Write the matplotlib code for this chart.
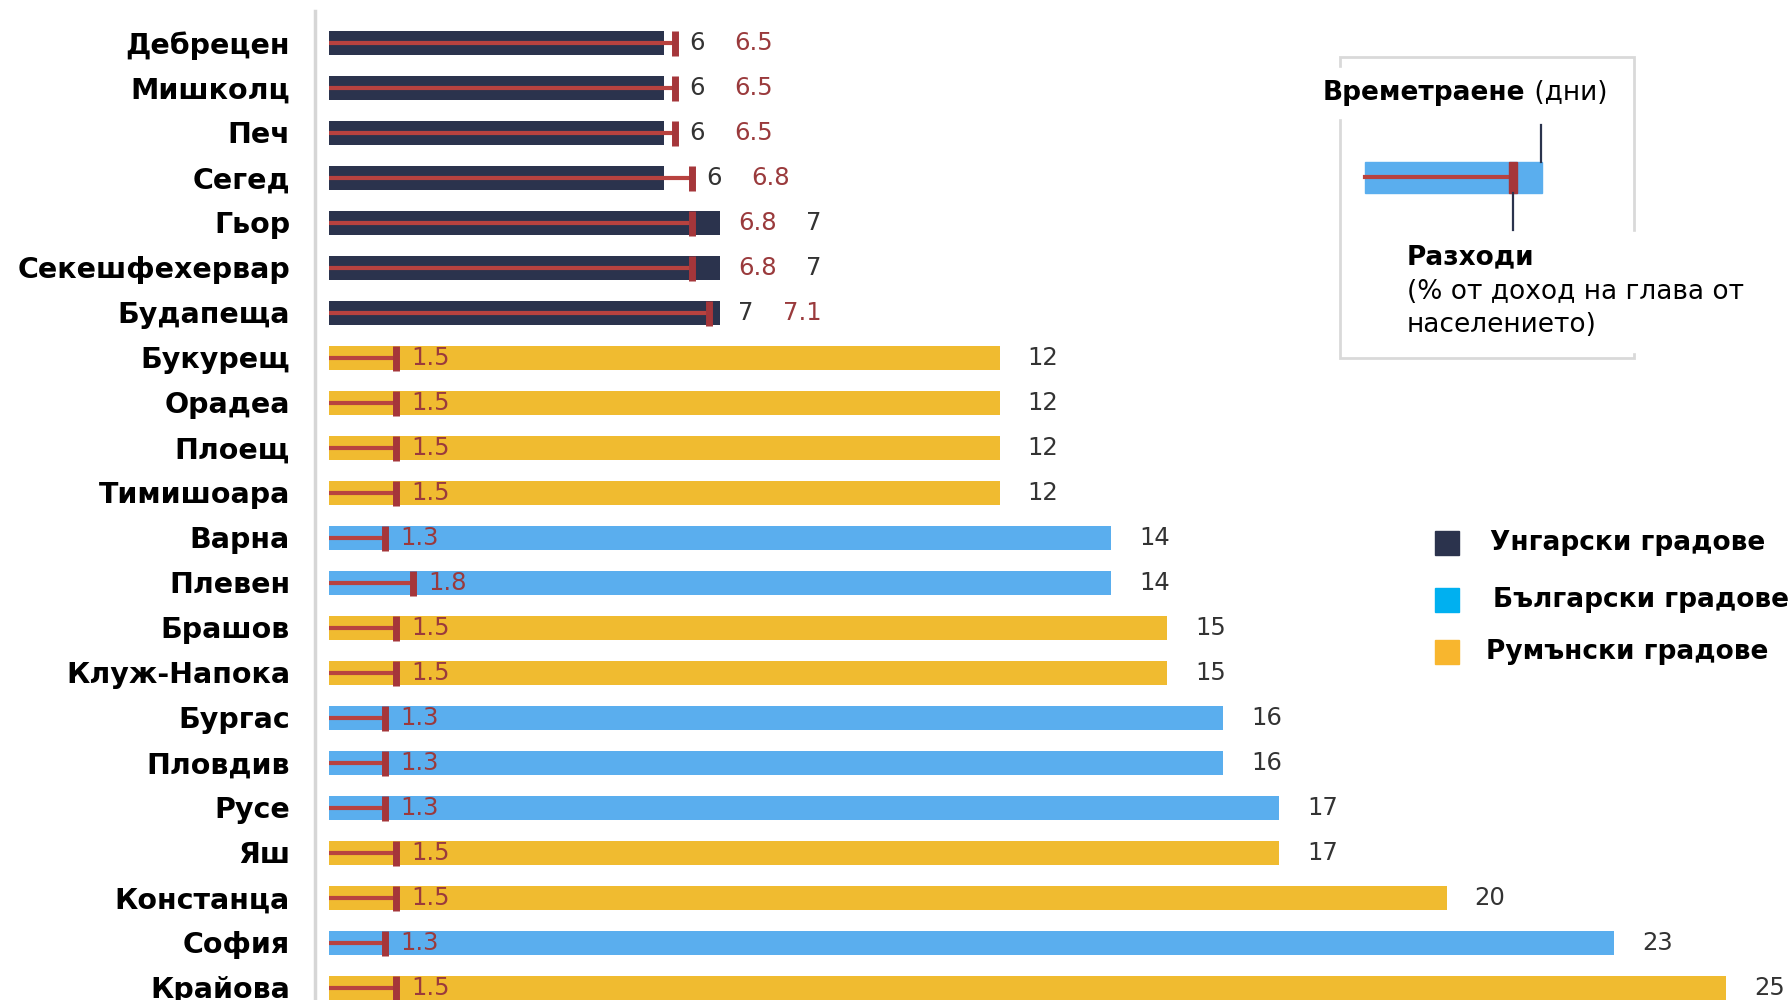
import matplotlib
matplotlib.use("Agg")
import matplotlib.pyplot as plt
from matplotlib.patches import Rectangle

cities = ['Дебрецен', 'Мишколц', 'Печ', 'Сегед', 'Гьор', 'Секешфехервар', 'Будапеща',
          'Букурещ', 'Орадеа', 'Плоещ', 'Тимишоара', 'Варна', 'Плевен', 'Брашов',
          'Клуж-Напока', 'Бургас', 'Пловдив', 'Русе', 'Яш', 'Констанца', 'София', 'Крайова']
country = ['H', 'H', 'H', 'H', 'H', 'H', 'H',
           'R', 'R', 'R', 'R', 'B', 'B', 'R',
           'R', 'B', 'B', 'B', 'R', 'R', 'B', 'R']
days = [6, 6, 6, 6, 7, 7, 7, 12, 12, 12, 12, 14, 14, 15, 15, 16, 16, 17, 17, 20, 23, 25]
costs = [6.5, 6.5, 6.5, 6.8, 6.8, 6.8, 7.1, 1.5, 1.5, 1.5, 1.5, 1.3, 1.8, 1.5, 1.5,
         1.3, 1.3, 1.3, 1.5, 1.5, 1.3, 1.5]
legend_labels = {'H': 'Унгарски градове', 'B': 'Български градове', 'R': 'Румънски градове'}
inset_title_bold = 'Времетраене'
inset_title_reg = ' (дни)'
inset_cost_bold = 'Разходи'
inset_cost_lines = ['(% от доход на глава от', 'населението)']

bar_colors = {'H': '#2b334d', 'B': '#5aaeee', 'R': '#f0bb30'}
legend_colors = {'H': '#2b334d', 'B': '#00b0f0', 'R': '#f8b62e'}
RED_LINE = '#b8423f'
RED_CAP = '#a5363a'
RED_TXT = '#9a3a3c'
DARK_TXT = '#333333'

W, H = 1788, 1000
fig = plt.figure(figsize=(W / 100, H / 100), dpi=100)
ax = fig.add_axes([329 / W, 0, 1453 / W, 0.989])

y = list(range(len(cities)))
ax.barh(y, days, height=0.53, color=[bar_colors[c] for c in country], zorder=2)
ax.set_xlim(0, 26)
ax.set_ylim(21.27, -0.71)
ax.set_xticks([])
ax.set_yticks([])
for s in ['top', 'right', 'bottom']:
    ax.spines[s].set_visible(False)
ax.spines['left'].set_color('#d6d6d6')
ax.spines['left'].set_linewidth(2.5)
ax.spines['left'].set_position(('outward', 10))

# city names (category labels)
for i, name in enumerate(cities):
    ax.annotate(name, xy=(0, i), xytext=(-28, 0.5), textcoords='offset points',
                ha='right', va='center_baseline', fontsize=20.5, fontweight='bold',
                family='DejaVu Sans', annotation_clip=False)

# expenditure series on its own (slightly shifted) cost scale, as in the original graphic
ax2 = ax.twiny()
ax2.set_xlim(0.3, 26.3)
ax2.axis('off')
ax2.hlines(y, 0, costs, color=RED_LINE, lw=3, zorder=3)
ax2.plot(costs, y, ls='none', marker='|', ms=18, mew=5, color=RED_CAP, zorder=4)
ax.set_ylim(21.27, -0.71)

num_font = dict(fontsize=17.5, family='DejaVu Sans', va='center')
for i, (d, c, k) in enumerate(zip(days, costs, country)):
    if k == 'H':
        pair = sorted([(d, DARK_TXT), (c, RED_TXT)], key=lambda t: t[0])
        bar_px = ax.transData.transform((d, i))[0]
        cap_px = ax2.transData.transform((c, i))[0]
        if cap_px > bar_px:
            anchor_ax, anchor_x, off = ax2, c, 10
        else:
            anchor_ax, anchor_x, off = ax, d, 13
        t1 = anchor_ax.annotate(f'{pair[0][0]:g}', xy=(anchor_x, i), xytext=(off, 0),
                                textcoords='offset points', color=pair[0][1], ha='left',
                                **num_font)
        anchor_ax.annotate(f'{pair[1][0]:g}', xy=(1, 0.5), xycoords=t1, xytext=(21, 0),
                           textcoords='offset points', color=pair[1][1], ha='left',
                           **num_font)
    else:
        ax2.annotate(f'{c:g}', xy=(c, i), xytext=(11, 0), textcoords='offset points',
                     color=RED_TXT, ha='left', zorder=5, **num_font)
        ax.annotate(f'{d:g}', xy=(d, i), xytext=(20, 0), textcoords='offset points',
                    color=DARK_TXT, ha='left', **num_font)

# overlay axes in pixel coordinates for legend & inset explanation
ov = fig.add_axes([0, 0, 1, 1], zorder=10)
ov.set_xlim(0, W)
ov.set_ylim(H, 0)
ov.axis('off')
ov.patch.set_alpha(0)

# legend
for (k, yy, tx) in [('H', 543, 1490), ('B', 600, 1493), ('R', 652, 1486)]:
    ov.add_patch(Rectangle((1435, yy - 12), 24, 24, color=legend_colors[k]))
    ov.text(tx, yy, legend_labels[k], fontsize=19, fontweight='bold',
            family='DejaVu Sans', va='center', ha='left')

# inset explanation box
ov.add_patch(Rectangle((1340, 57), 294, 301, fill=False, ec='#d9d9d9', lw=2))
ov.add_patch(Rectangle((1318, 68), 300, 50, color='white', zorder=2))
ov.add_patch(Rectangle((1398, 232), 390, 120, color='white', zorder=2))
tb = ov.text(1323, 93, inset_title_bold, fontsize=19, fontweight='bold',
             family='DejaVu Sans', va='center', ha='left', zorder=3)
ov.annotate(inset_title_reg, xy=(1, 0.5), xycoords=tb, xytext=(0, 0),
            textcoords='offset points', fontsize=19, family='DejaVu Sans',
            va='center', ha='left', zorder=3)
ov.add_patch(Rectangle((1365, 162), 177, 31, color=bar_colors['B'], zorder=3))
ov.plot([1365, 1513], [177, 177], color=RED_LINE, lw=3, zorder=4)
ov.add_patch(Rectangle((1509, 162), 8, 31, color=RED_CAP, zorder=4))
ov.plot([1541, 1541], [125, 162], color='#2b334d', lw=1.6, zorder=4)
ov.plot([1513, 1513], [193, 230], color='#2b334d', lw=1.6, zorder=4)
ov.text(1407, 257, inset_cost_bold, fontsize=19, fontweight='bold',
        family='DejaVu Sans', va='center', ha='left', zorder=3)
for j, line in enumerate(inset_cost_lines):
    ov.text(1407, 292 + 33 * j, line, fontsize=19, family='DejaVu Sans',
            va='center', ha='left', zorder=3)

fig.savefig('out.png', dpi=100)
